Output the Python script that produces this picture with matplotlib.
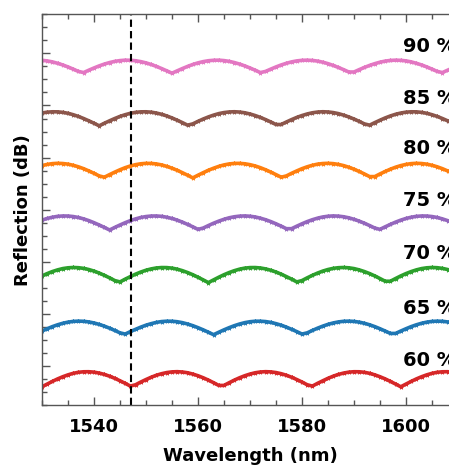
import matplotlib
matplotlib.use("Agg")
import matplotlib.pyplot as plt
import numpy as np
from matplotlib.ticker import MultipleLocator

# wavelength grid (nm), values every 1 nm
wavelength = np.arange(1530, 1611)

refl_60 = [-4.00, -3.48, -2.97, -2.49, -2.07, -1.71, -1.42, -1.22, -1.12, -1.11,
           -1.19, -1.37, -1.63, -1.97, -2.38, -2.85, -3.34, -3.87, -3.61, -3.09,
           -2.61, -2.17, -1.79, -1.49, -1.27, -1.14, -1.10, -1.16, -1.31, -1.56,
           -1.88, -2.27, -2.72, -3.22, -3.74, -3.74, -3.22, -2.72, -2.27, -1.88,
           -1.56, -1.31, -1.16, -1.10, -1.14, -1.27, -1.49, -1.79, -2.17, -2.61,
           -3.09, -3.61, -3.87, -3.34, -2.85, -2.38, -1.97, -1.63, -1.37, -1.19,
           -1.11, -1.12, -1.22, -1.42, -1.71, -2.07, -2.49, -2.97, -3.48, -4.00,
           -3.48, -2.97, -2.49, -2.07, -1.71, -1.42, -1.22, -1.12, -1.11, -1.19,
           -1.37]
refl_65 = [6.70, 7.14, 7.55, 7.90, 8.19, 8.41, 8.55, 8.60, 8.57, 8.45,
           8.25, 7.98, 7.64, 7.25, 6.81, 6.35, 6.12, 6.59, 7.03, 7.45,
           7.82, 8.12, 8.36, 8.52, 8.59, 8.58, 8.49, 8.31, 8.05, 7.73,
           7.35, 6.93, 6.47, 6.00, 6.47, 6.93, 7.35, 7.73, 8.05, 8.31,
           8.49, 8.58, 8.59, 8.52, 8.36, 8.12, 7.82, 7.45, 7.03, 6.59,
           6.12, 6.35, 6.81, 7.25, 7.64, 7.98, 8.25, 8.45, 8.57, 8.60,
           8.55, 8.41, 8.19, 7.90, 7.55, 7.14, 6.70, 6.24, 6.24, 6.70,
           7.14, 7.55, 7.90, 8.19, 8.41, 8.55, 8.60, 8.57, 8.45, 8.25,
           7.98]
refl_70 = [17.28, 17.73, 18.12, 18.44, 18.69, 18.84, 18.90, 18.86, 18.73, 18.51,
           18.21, 17.83, 17.39, 16.91, 16.39, 16.13, 16.66, 17.15, 17.62, 18.03,
           18.37, 18.63, 18.81, 18.89, 18.88, 18.78, 18.58, 18.29, 17.93, 17.51,
           17.03, 16.52, 16.00, 16.52, 17.03, 17.51, 17.93, 18.29, 18.58, 18.78,
           18.88, 18.89, 18.81, 18.63, 18.37, 18.03, 17.62, 17.15, 16.66, 16.13,
           16.39, 16.91, 17.39, 17.83, 18.21, 18.51, 18.73, 18.86, 18.90, 18.84,
           18.69, 18.44, 18.12, 17.73, 17.28, 16.78, 16.26, 16.26, 16.78, 17.28,
           17.73, 18.12, 18.44, 18.69, 18.84, 18.90, 18.86, 18.73, 18.51, 18.21,
           17.83]
refl_75 = [27.99, 28.31, 28.55, 28.72, 28.79, 28.78, 28.68, 28.50, 28.23, 27.90,
           27.50, 27.06, 26.59, 26.10, 26.59, 27.06, 27.50, 27.90, 28.23, 28.50,
           28.68, 28.78, 28.79, 28.72, 28.55, 28.31, 27.99, 27.61, 27.17, 26.71,
           26.22, 26.47, 26.95, 27.40, 27.80, 28.15, 28.44, 28.64, 28.76, 28.80,
           28.74, 28.60, 28.37, 28.07, 27.71, 27.29, 26.83, 26.35, 26.35, 26.83,
           27.29, 27.71, 28.07, 28.37, 28.60, 28.74, 28.80, 28.76, 28.64, 28.44,
           28.15, 27.80, 27.40, 26.95, 26.47, 26.22, 26.71, 27.17, 27.61, 27.99,
           28.31, 28.55, 28.72, 28.79, 28.78, 28.68, 28.50, 28.23, 27.90, 27.50,
           27.06]
refl_80 = [38.46, 38.69, 38.84, 38.90, 38.86, 38.74, 38.52, 38.23, 37.87, 37.44,
           36.98, 36.48, 36.23, 36.73, 37.21, 37.66, 38.06, 38.39, 38.64, 38.81,
           38.89, 38.88, 38.78, 38.59, 38.31, 37.96, 37.56, 37.10, 36.61, 36.10,
           36.61, 37.10, 37.56, 37.96, 38.31, 38.59, 38.78, 38.88, 38.89, 38.81,
           38.64, 38.39, 38.06, 37.66, 37.21, 36.73, 36.23, 36.48, 36.98, 37.44,
           37.87, 38.23, 38.52, 38.74, 38.86, 38.90, 38.84, 38.69, 38.46, 38.15,
           37.77, 37.33, 36.86, 36.35, 36.35, 36.86, 37.33, 37.77, 38.15, 38.46,
           38.69, 38.84, 38.90, 38.86, 38.74, 38.52, 38.23, 37.87, 37.44, 36.98,
           36.48]
refl_85 = [48.55, 48.72, 48.79, 48.78, 48.68, 48.50, 48.23, 47.90, 47.50, 47.06,
           46.59, 46.10, 46.59, 47.06, 47.50, 47.90, 48.23, 48.50, 48.68, 48.78,
           48.79, 48.72, 48.55, 48.31, 47.99, 47.61, 47.17, 46.71, 46.22, 46.47,
           46.95, 47.40, 47.80, 48.15, 48.44, 48.64, 48.76, 48.80, 48.74, 48.60,
           48.37, 48.07, 47.71, 47.29, 46.83, 46.35, 46.35, 46.83, 47.29, 47.71,
           48.07, 48.37, 48.60, 48.74, 48.80, 48.76, 48.64, 48.44, 48.15, 47.80,
           47.40, 46.95, 46.47, 46.22, 46.71, 47.17, 47.61, 47.99, 48.31, 48.55,
           48.72, 48.79, 48.78, 48.68, 48.50, 48.23, 47.90, 47.50, 47.06, 46.59,
           46.10]
refl_90 = [58.67, 58.56, 58.37, 58.10, 57.78, 57.40, 56.98, 56.54, 56.32, 56.77,
           57.20, 57.60, 57.95, 58.24, 58.47, 58.62, 58.70, 58.68, 58.59, 58.42,
           58.18, 57.87, 57.50, 57.09, 56.65, 56.20, 56.65, 57.09, 57.50, 57.87,
           58.18, 58.42, 58.59, 58.68, 58.70, 58.62, 58.47, 58.24, 57.95, 57.60,
           57.20, 56.77, 56.32, 56.54, 56.98, 57.40, 57.78, 58.10, 58.37, 58.56,
           58.67, 58.70, 58.65, 58.52, 58.31, 58.03, 57.69, 57.30, 56.88, 56.43,
           56.43, 56.88, 57.30, 57.69, 58.03, 58.31, 58.52, 58.65, 58.70, 58.67,
           58.56, 58.37, 58.10, 57.78, 57.40, 56.98, 56.54, 56.32, 56.77, 57.20,
           57.60]

series = [refl_60, refl_65, refl_70, refl_75, refl_80, refl_85, refl_90]
labels = ["60 %", "65 %", "70 %", "75 %", "80 %", "85 %", "90 %"]
colors = ["#d62728", "#1f77b4", "#2ca02c", "#9467bd", "#ff7f0e", "#8c564b", "#e377c2"]
label_y = [1.1, 11.1, 21.5, 31.7, 41.7, 51.4, 61.3]
marker_wl = 1547.2

fig = plt.figure(figsize=(4.49, 4.68), dpi=100)
ax = fig.add_axes([0.0935, 0.1346, 0.9265, 0.8348])

for ys, col in zip(series, colors):
    ax.plot(wavelength, ys, color=col, lw=2.6, solid_joinstyle="round",
            marker="*", ms=3.2, mew=0.5)

for lab, yy in zip(labels, label_y):
    ax.text(1599.4, yy, lab, fontsize=14, fontweight="bold", va="center", ha="left")

ax.axvline(marker_wl, color="black", lw=1.5, ls=(0, (3.5, 2)))

ax.set_xlim(1530, 1610)
ax.set_ylim(-7.5, 67.5)
ax.xaxis.set_major_locator(MultipleLocator(20))
ax.xaxis.set_minor_locator(MultipleLocator(5))
ax.yaxis.set_major_locator(MultipleLocator(10))
ax.yaxis.set_minor_locator(MultipleLocator(2.5))
ax.set_yticklabels([])

for s in ax.spines.values():
    s.set_color("#555555")
    s.set_linewidth(1.0)
ax.spines["right"].set_visible(False)

ax.tick_params(which="both", direction="in", top=True, right=False, color="#555555", width=1.0)
ax.tick_params(which="major", length=6, labelsize=13, pad=9)
ax.tick_params(which="minor", length=3.5)
for t in ax.get_xticklabels():
    t.set_fontweight("bold")

ax.set_xlabel("Wavelength (nm)", fontsize=13, fontweight="bold")
ax.set_ylabel("Reflection (dB)", fontsize=13, fontweight="bold")
ax.xaxis.set_label_coords(0.5, -0.1075)
ax.yaxis.set_label_coords(-0.024, 0.5)

fig.savefig("out.png", dpi=100)
